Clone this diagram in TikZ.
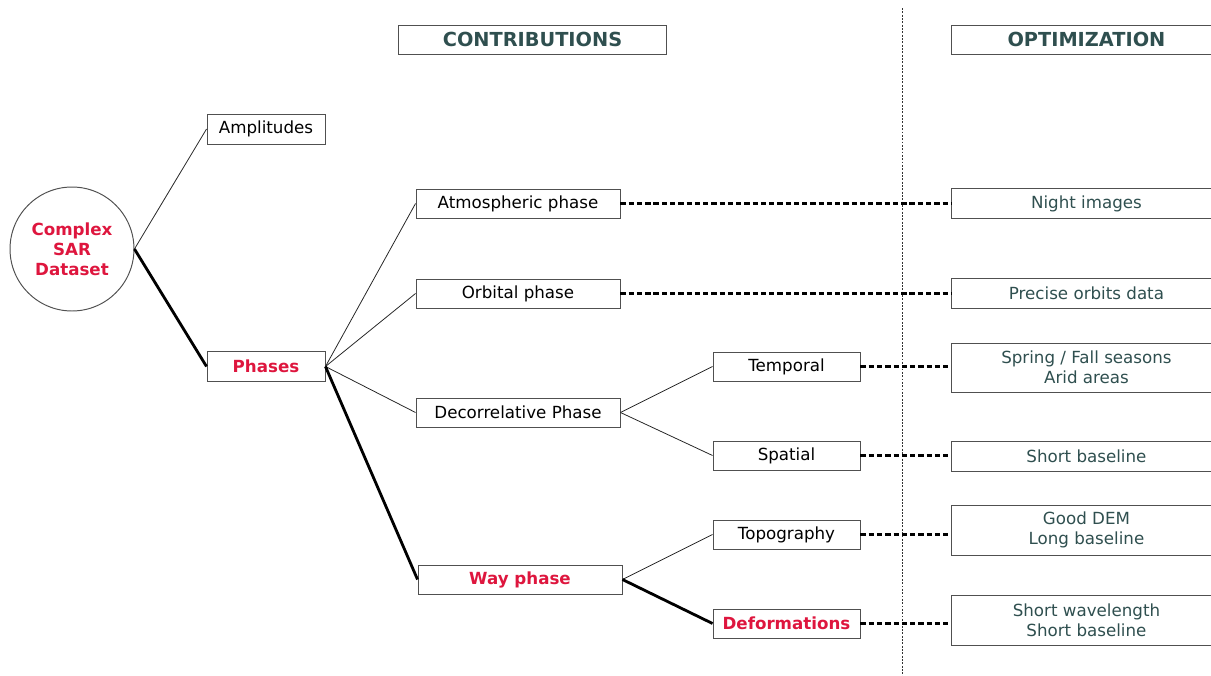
\documentclass[tikz,border=0pt]{standalone}
\usepackage{fontspec}
\setmainfont{DejaVu Sans}
\usepackage{tikz}
\usetikzlibrary{positioning}
\definecolor{sarred}{RGB}{222,22,62}
\definecolor{slatetext}{RGB}{47,79,79}
\definecolor{boxline}{RGB}{80,80,80}
\tikzset{
  box/.style={rectangle,draw=boxline,line width=0.55pt,inner sep=0pt,
    font=\fontsize{9.5}{11.5}\selectfont,align=center},
  hot/.style={text=sarred,font=\fontsize{9.5}{11.5}\selectfont\bfseries},
  thinlink/.style={line width=0.45pt,draw=black!85},
  boldlink/.style={line width=1.6pt,draw=black},
  dashlink/.style={line width=1.4pt,draw=black,dash pattern=on 3pt off 1.7pt}
}

\begin{document}
\begin{tikzpicture}[
  x=0.02cm,y=-0.02cm,
  header/.style={box,minimum height=0.58cm,font=\fontsize{11}{13}\selectfont\bfseries,text=slatetext},
  leftbox/.style={box,minimum width=2.36cm,minimum height=0.6cm},
  midbox/.style={box,minimum width=4.08cm,minimum height=0.58cm},
  subbox/.style={box,minimum width=2.94cm,minimum height=0.58cm},
  optbox/.style={box,anchor=west,minimum width=5.4cm,text=slatetext},
  column/.style={line width=0.4pt,draw=black!80,dash pattern=on 1.1pt off 0.8pt}
]
\clip (0,0) rectangle (1211,676);

% headers
\node[header,minimum width=5.38cm] (contrib) at (532.5,39.5) {CONTRIBUTIONS};
\node[header,anchor=west,minimum width=5.4cm] (optim) at (951,39.5) {OPTIMIZATION};
\draw[column] (902,8) -- (902,676);

% dataset
\node[circle,draw=boxline,line width=0.55pt,minimum size=2.48cm,inner sep=0pt,
  align=center,hot,font=\fontsize{9.5}{11.5}\selectfont\bfseries] (sar) at (72,249)
  {Complex\\SAR\\Dataset};

\node[leftbox] (ampl) at (266,129) {Amplitudes};
\node[leftbox,hot] (phases) at (266,366.5) {Phases};

\node[midbox] (atmo) at (518,203.5) {Atmospheric phase};
\node[midbox] (orbit) at (518,293.5) {Orbital phase};
\node[midbox] (decor) at (518,412.5) {Decorrelative Phase};
\node[midbox,hot] (way) at (520,579.5) {Way phase};

\node[subbox] (temporal) at (786.5,366.5) {Temporal};
\node[subbox] (spatial) at (786.5,455.5) {Spatial};
\node[subbox] (topo) at (786.5,534.5) {Topography};
\node[subbox,hot] (deform) at (786.5,623.5) {Deformations};

\node[optbox,minimum height=0.6cm] (night) at (951,203.5) {Night images};
\node[optbox,minimum height=0.6cm] (orbits) at (951,293.5) {Precise orbits data};
\node[optbox,minimum height=0.98cm] (season) at (951,367.5) {Spring / Fall seasons\\Arid areas};
\node[optbox,minimum height=0.6cm] (baseline) at (951,456) {Short baseline};
\node[optbox,minimum height=1.0cm] (dem) at (951,530) {Good DEM\\Long baseline};
\node[optbox,minimum height=1.0cm] (wave) at (951,620) {Short wavelength\\Short baseline};

% tree
\draw[thinlink] (sar.east) -- (ampl.west);
\draw[boldlink] (sar.east) -- (phases.west);

\foreach \n in {atmo,orbit,decor}{
  \draw[thinlink] (phases.east) -- (\n.west);
}
\draw[boldlink] (phases.east) -- (way.west);

\draw[thinlink] (decor.east) -- (temporal.west);
\draw[thinlink] (decor.east) -- (spatial.west);
\draw[thinlink] (way.east) -- (topo.west);
\draw[boldlink] (way.east) -- (deform.west);

% links to optimization, kept level with the left box
\foreach \a/\b in {atmo/night,orbit/orbits,temporal/season,spatial/baseline,topo/dem,deform/wave}{
  \draw[dashlink] (\a.east) -- (\a.east -| \b.west);
}
\end{tikzpicture}
\end{document}
